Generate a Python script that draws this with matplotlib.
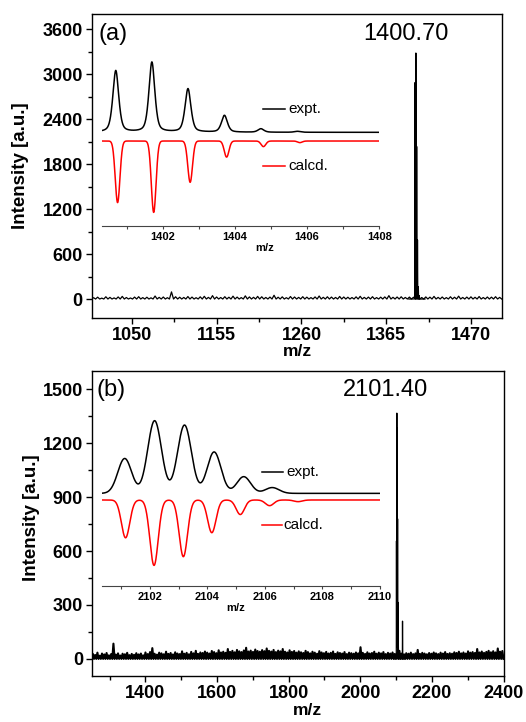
import numpy as np
import matplotlib
matplotlib.use("Agg")
import matplotlib.pyplot as plt
from matplotlib.ticker import MultipleLocator
from matplotlib.lines import Line2D

plt.rcParams['font.family'] = ['Liberation Sans', 'DejaVu Sans']

W, H = 526, 722

# ---------------- data : panel (a) ----------------
iso_a_mz = [1400.70, 1401.70, 1402.70, 1403.71, 1404.72, 1405.73]
iso_a_expt = [88, 100, 62, 24, 5, 1.4]
iso_a_calc_mz = [1400.75, 1401.75, 1402.76, 1403.77, 1404.79, 1405.80]
iso_a_calc = [88, 102, 59, 23, 8, 2.3]
main_a_peak = 3280
label_a = "1400.70"
noise_a = [18, 25, 12, 30, 22, 15, 28, 35, 20, 14, 26, 31, 19, 24, 16, 40, 22, 27, 18, 95,
           30, 24, 21, 33, 26, 18, 29, 36, 22, 45, 27, 20, 31, 24, 38, 26, 19, 42, 28, 23,
           35, 30, 21, 26, 50, 24, 29, 18, 33, 27, 22, 31, 25, 19, 28, 40, 23, 30, 26, 21,
           34, 27, 24, 20, 29, 36, 22, 26, 31, 19, 25, 28, 45, 23, 27, 30, 21, 26, 24, 32,
           20, 28, 25, 35, 22, 27, 19, 30, 24, 38, 21, 26, 29, 23, 33, 20, 27, 25, 31, 22]

# ---------------- data : panel (b) ----------------
iso_b_mz = [2101.12, 2102.16, 2103.20, 2104.23, 2105.26, 2106.25]
iso_b_expt = [48, 100, 94, 57, 23, 8]
iso_b_calc_mz = [2101.15, 2102.14, 2103.16, 2104.15, 2105.14, 2106.16, 2107.15]
iso_b_calc = [52, 90, 78, 45, 20, 7.8, 2.3]
main_b_peak = 1367
extra_b_mz = [2118]
extra_b_h = [210]
label_b = "2101.40"
noise_b = [28, 22, 35, 18, 30, 25, 33, 20, 27, 85, 24, 31, 19, 29, 26, 34, 21, 28, 23, 32,
           25, 30, 20, 36, 27, 38, 60, 29, 24, 35, 31, 26, 40, 28, 33, 25, 37, 30, 27, 42,
           29, 34, 26, 39, 31, 45, 28, 36, 33, 41, 35, 30, 44, 38, 32, 48, 36, 40, 34, 55,
           39, 45, 37, 50, 42, 38, 47, 62, 41, 46, 39, 52, 44, 40, 49, 43, 58, 45, 41, 50,
           38, 46, 42, 55, 40, 36, 48, 39, 44, 35, 42, 37, 33, 45, 38, 31, 40, 35, 29, 43,
           36, 32, 39, 30, 34, 41, 28, 37, 33, 30, 38, 27, 35, 32, 29, 36, 31, 65, 34, 28,
           37, 30, 33, 40, 29, 35, 31, 38, 27, 34, 30, 36, 28, 33, 45, 30, 26, 32, 29, 35,
           27, 31, 50, 28, 34, 30, 26, 33, 29, 36, 31, 27, 35, 30, 38, 28, 32, 29, 37, 33,
           40, 31, 36, 30, 42, 35, 38, 33, 55, 36, 41, 34, 39, 45, 37, 43, 36, 58, 40, 44]


def gauss(x, centers, heights, s):
    y = np.zeros_like(x)
    for c, h in zip(centers, heights):
        y += h * np.exp(-0.5 * ((x - c) / s) ** 2)
    return y


def voigt(x, centers, heights, s, g):
    y = np.zeros_like(x)
    for c, h in zip(centers, heights):
        y += h * (0.5 * np.exp(-0.5 * ((x - c) / s) ** 2) + 0.5 * g ** 2 / ((x - c) ** 2 + g ** 2))
    return y


def zigzag(x0, x1, vals):
    vals = np.asarray(vals, float)
    xs = np.linspace(x0, x1, 2 * len(vals) + 1)
    ys = np.zeros_like(xs)
    ys[1::2] = vals
    return xs, ys


fig = plt.figure(figsize=(W / 100, H / 100), dpi=100)


def axes_px(l, t, r, b):
    return fig.add_axes([l / W, 1 - b / H, (r - l) / W, (b - t) / H])


TICKFS = 13


def style_main(ax):
    for sp in ax.spines.values():
        sp.set_linewidth(1.0)
    ax.tick_params(which='major', direction='out', length=4.3, width=1.0, pad=2.0,
                   labelsize=TICKFS)
    ax.tick_params(which='minor', direction='out', length=2.6, width=1.0)
    for lab in ax.get_xticklabels() + ax.get_yticklabels():
        lab.set_fontweight('bold')


def style_inset(ax):
    for s in ['top', 'right', 'left']:
        ax.spines[s].set_visible(False)
    ax.spines['bottom'].set_linewidth(0.8)
    ax.spines['bottom'].set_color('#444444')
    ax.set_yticks([])
    ax.patch.set_alpha(0)
    ax.xaxis.set_major_locator(MultipleLocator(2))
    ax.xaxis.set_minor_locator(MultipleLocator(1))
    ax.tick_params(which='both', direction='out', length=2.5, width=0.8, color='#444444',
                   pad=2, labelsize=8)
    for lab in ax.get_xticklabels():
        lab.set_fontweight('bold')


# ======================= panel (a) =======================
axa = axes_px(91.5, 14, 501.7, 318.3)
xa, ya = zigzag(1000, 1508, noise_a)
axa.plot(xa, ya, color='black', lw=0.9)
xp = np.arange(1393, 1413, 0.01)
axa.plot(xp, gauss(xp, iso_a_mz, np.array(iso_a_expt) / 100 * main_a_peak, 0.12),
         color='black', lw=0.9)
axa.set_xlim(1000, 1508)
axa.set_ylim(-257, 3800)
axa.xaxis.set_major_locator(MultipleLocator(105))
axa.xaxis.set_minor_locator(MultipleLocator(52.5))
axa.yaxis.set_major_locator(MultipleLocator(600))
axa.yaxis.set_minor_locator(MultipleLocator(300))
style_main(axa)
axa.set_xlabel('m/z', fontsize=12.5, fontweight='bold')
axa.xaxis.set_label_coords(0.503, -0.083)
axa.set_ylabel('Intensity [a.u.]', fontsize=13.5, fontweight='bold')
axa.yaxis.set_label_coords(-0.152, 0.5)
fig.text(99 / W, 1 - 34.3 / H, '(a)', fontsize=17, ha='left', va='center')
fig.text(363.3 / W, 1 - 34.3 / H, label_a, fontsize=17, ha='left', va='center')

# inset (a)
ina = axes_px(101.7, 55, 379.3, 225.7)
xi = np.arange(1400.31, 1408.0, 0.005)
ina.plot(xi, 133.4 + voigt(xi, iso_a_mz, iso_a_expt, 0.085, 0.09), color='black', lw=1.1)
ina.plot(xi, 121 - gauss(xi, iso_a_calc_mz, iso_a_calc, 0.065), color='red', lw=1.1)
ina.set_xlim(1400.31, 1408.0)
ina.set_ylim(0, 243.9)
style_inset(ina)
ina.text((265 - 101.7) / 277.6, -(247.7 - 225.7) / 170.7, 'm/z', transform=ina.transAxes,
         fontsize=8, fontweight='bold', ha='center', va='center')
fig.add_artist(Line2D([263 / W, 285 / W], [1 - 109 / H] * 2, color='black', lw=1.1))
fig.text(288 / W, 1 - 109 / H, 'expt.', fontsize=11, ha='left', va='center')
fig.add_artist(Line2D([263 / W, 285 / W], [1 - 165.7 / H] * 2, color='red', lw=1.1))
fig.text(288 / W, 1 - 165.7 / H, 'calcd.', fontsize=11, ha='left', va='center')

# ======================= panel (b) =======================
axb = axes_px(91.7, 370.7, 503.5, 676)
xb, yb = zigzag(1250, 2400, noise_b)
axb.plot(xb, yb, color='black', lw=1.5)
xp = np.arange(2094, 2125, 0.01)
axb.plot(xp, gauss(xp, iso_b_mz, np.array(iso_b_expt) / 100 * main_b_peak, 0.2)
         + gauss(xp, extra_b_mz, extra_b_h, 0.2), color='black', lw=0.9)
axb.set_xlim(1250, 2400)
axb.set_ylim(-95, 1603)
axb.xaxis.set_major_locator(MultipleLocator(200))
axb.xaxis.set_minor_locator(MultipleLocator(100))
axb.yaxis.set_major_locator(MultipleLocator(300))
axb.yaxis.set_minor_locator(MultipleLocator(150))
style_main(axb)
axb.set_xlabel('m/z', fontsize=12.5, fontweight='bold')
axb.xaxis.set_label_coords(0.525, -0.088)
axb.set_ylabel('Intensity [a.u.]', fontsize=13.5, fontweight='bold')
axb.yaxis.set_label_coords(-0.1255, 0.518)
fig.text(96.7 / W, 1 - 390.3 / H, '(b)', fontsize=17, ha='left', va='center')
fig.text(343.3 / W, 1 - 390.3 / H, label_b, fontsize=17, ha='left', va='center')

# inset (b)
inb = axes_px(101.7, 415, 380, 585.7)
xi = np.arange(2100.32, 2110.0, 0.005)
inb.plot(xi, 127 + gauss(xi, iso_b_mz, iso_b_expt, 0.24), color='black', lw=1.1)
inb.plot(xi, 117.9 - gauss(xi, iso_b_calc_mz, iso_b_calc, 0.145), color='red', lw=1.1)
inb.set_xlim(2100.32, 2110.0)
inb.set_ylim(0, 234.8)
style_inset(inb)
inb.text((236 - 101.7) / 278.3, -(607.7 - 585.7) / 170.7, 'm/z', transform=inb.transAxes,
         fontsize=8, fontweight='bold', ha='center', va='center')
fig.add_artist(Line2D([261.7 / W, 282.7 / W], [1 - 471.7 / H] * 2, color='black', lw=1.1))
fig.text(286.7 / W, 1 - 471.7 / H, 'expt.', fontsize=11, ha='left', va='center')
fig.add_artist(Line2D([261.7 / W, 281.7 / W], [1 - 525 / H] * 2, color='red', lw=1.1))
fig.text(283.3 / W, 1 - 525 / H, 'calcd.', fontsize=11, ha='left', va='center')

fig.savefig('out.png', dpi=100)
